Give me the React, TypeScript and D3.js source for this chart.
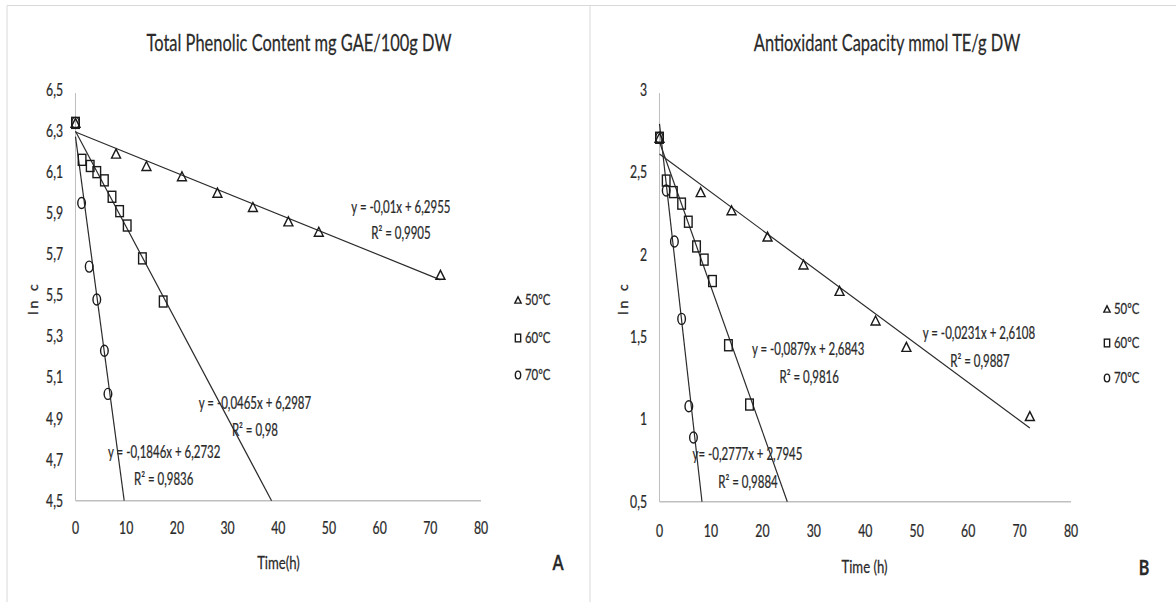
import React from 'react';
import * as d3 from 'd3';

const W = 1176;
const H = 602;

const TEMPS = ['50ºC', '60ºC', '70ºC'];
const X_TICKS = [0, 10, 20, 30, 40, 50, 60, 70, 80];

// Panel A: total phenolic content (ln c)
const A_TIME_50 = [0, 8, 14, 21, 28, 35, 42, 48, 72];
const A_LNC_50 = [6.34, 6.19, 6.13, 6.08, 6.0, 5.93, 5.86, 5.81, 5.6];
const A_TIME_60 = [0, 1.3, 2.9, 4.2, 5.7, 7.2, 8.7, 10.2, 13.2, 17.3];
const A_LNC_60 = [6.34, 6.16, 6.13, 6.1, 6.06, 5.98, 5.91, 5.84, 5.68, 5.47];
const A_TIME_70 = [0, 1.2, 2.7, 4.2, 5.7, 6.4];
const A_LNC_70 = [6.34, 5.95, 5.64, 5.48, 5.23, 5.02];
const A_SLOPE = [-0.01, -0.0465, -0.1846];
const A_INTERCEPT = [6.2955, 6.2987, 6.2732];
const A_EQ = ['y = -0,01x + 6,2955', 'y = -0,0465x + 6,2987', 'y = -0,1846x + 6,2732'];
const A_R2 = ['R² = 0,9905', 'R² = 0,98', 'R² = 0,9836'];
const A_Y_TICKS = [4.5, 4.7, 4.9, 5.1, 5.3, 5.5, 5.7, 5.9, 6.1, 6.3, 6.5];

// Panel B: antioxidant capacity (ln c)
const B_TIME_50 = [0, 8, 14, 21, 28, 35, 42, 48, 72];
const B_LNC_50 = [2.71, 2.38, 2.27, 2.11, 1.94, 1.78, 1.6, 1.44, 1.02];
const B_TIME_60 = [0, 1.3, 2.7, 4.3, 5.6, 7.2, 8.7, 10.3, 13.4, 17.5];
const B_LNC_60 = [2.71, 2.45, 2.38, 2.31, 2.2, 2.05, 1.97, 1.84, 1.45, 1.09];
const B_TIME_70 = [0, 1.3, 2.9, 4.3, 5.7, 6.6];
const B_LNC_70 = [2.71, 2.39, 2.08, 1.61, 1.08, 0.89];
const B_SLOPE = [-0.0231, -0.0879, -0.2777];
const B_INTERCEPT = [2.6108, 2.6843, 2.7945];
const B_EQ = ['y = -0,0231x + 2,6108', 'y = -0,0879x + 2,6843', 'y= -0,2777x + 2,7945'];
const B_R2 = ['R² = 0,9887', 'R² = 0,9816', 'R² = 0,9884'];
const B_Y_TICKS = [0.5, 1, 1.5, 2, 2.5, 3];

const INK = '#2a2a2a';
const AXIS = '#bfbfbf';
const FONT = 'Lato, "Open Sans", sans-serif';

const fmt = (v: number) => String(+v.toFixed(2)).replace('.', ',');

// the source image is squeezed sideways, so text is drawn tall and narrow
function T({ x, y, size, children, anchor = 'middle', weight = 400, sx = 0.7 }: any) {
  return (
    <text transform={`translate(${x},${y}) scale(${sx},1)`} fontSize={size} fontFamily={FONT}
      fill={INK} stroke={INK} strokeWidth={0.25} textAnchor={anchor} dy="0.35em" fontWeight={weight}>{children}</text>
  );
}

function Marker({ kind, x, y, s = 1 }: { kind: number; x: number; y: number; s?: number }) {
  const common = { fill: 'none', stroke: '#1a1a1a', strokeWidth: 1.4 };
  if (kind === 0) {
    const w = 4.5 * s, h = 9 * s;
    return <path d={`M${x},${y - h / 2}L${x + w},${y + h / 2}L${x - w},${y + h / 2}Z`} {...common} />;
  }
  if (kind === 1) return <rect x={x - 3.8 * s} y={y - 5.5 * s} width={7.6 * s} height={11 * s} {...common} />;
  return <ellipse cx={x} cy={y} rx={3.8 * s} ry={5.5 * s} {...common} />;
}

function Panel({ cfg }: any) {
  const x = d3.scaleLinear().domain([0, 80]).range(cfg.xRange);
  const y = d3.scaleLinear().domain(cfg.yDomain).range(cfg.yRange);
  const y0 = cfg.yDomain[0];
  const series = cfg.series as { t: number[]; v: number[] }[];
  const line = d3.line<[number, number]>().x(d => x(d[0])).y(d => y(d[1]));

  return (
    <g>
      <T x={cfg.title[0]} y={cfg.title[1]} size={24} sx={0.685}>{cfg.titleText}</T>

      <line x1={x(0)} x2={x(0)} y1={y(cfg.yDomain[1]) + 3} y2={y(y0)} stroke={AXIS} strokeWidth={1} />
      <line x1={x(0)} x2={x(80)} y1={y(y0)} y2={y(y0)} stroke={AXIS} strokeWidth={1.6} />

      {cfg.yTicks.map((v: number) => (
        <T key={v} x={x(0) - 12.5} y={y(v)} size={17} sx={0.72} anchor="end">{fmt(v)}</T>
      ))}
      {X_TICKS.map(v => (
        <T key={v} x={x(v)} y={cfg.xTickY} size={17} sx={0.72}>{v}</T>
      ))}

      {cfg.slope.map((m: number, i: number) => {
        const b = cfg.intercept[i];
        const tEnd = Math.min(72, (y0 - b) / m);
        return <path key={i} d={line([[0, b], [tEnd, b + m * tEnd]]) || ''} stroke="#2b2b2b" strokeWidth={1.2} fill="none" />;
      })}

      {series.map((s, k) => s.t.map((t, j) => (
        <Marker key={`${k}-${j}`} kind={k} x={x(t)} y={y(s.v[j])} />
      )))}

      {cfg.eqPos.map((p: number[], i: number) => (
        <g key={i}>
          <T x={x(p[0])} y={y(p[1])} size={17} sx={0.675}>{cfg.eq[i]}</T>
          <T x={x(p[2])} y={y(p[3])} size={17} sx={0.675}>{cfg.r2[i]}</T>
        </g>
      ))}

      {TEMPS.map((name, i) => (
        <g key={name}>
          <Marker kind={i} x={cfg.legend[0]} y={cfg.legend[1][i]} s={0.7} />
          <T x={cfg.legend[0] + 7} y={cfg.legend[1][i]} size={15} sx={0.76} anchor="start">{name}</T>
        </g>
      ))}

      <T x={cfg.xLabel[0]} y={cfg.xLabel[1]} size={18} sx={0.73}>{cfg.xLabelText}</T>
      <text transform={`translate(${cfg.yLabel[0]},${cfg.yLabel[1]}) rotate(-90)`} fontSize={14}
        fontFamily={FONT} fill={INK} stroke={INK} strokeWidth={0.3} textAnchor="middle" dy="0.35em"
        letterSpacing={3}>ln c</text>
      <T x={cfg.tag[0]} y={cfg.tag[1]} size={20} sx={0.8} weight={700}>{cfg.tagText}</T>
    </g>
  );
}

const PANEL_A = {
  titleText: 'Total Phenolic Content mg GAE/100g DW', title: [299, 43],
  xRange: [75.5, 481], yDomain: [4.5, 6.5], yRange: [500.7, 90], yTicks: A_Y_TICKS, xTickY: 528,
  series: [{ t: A_TIME_50, v: A_LNC_50 }, { t: A_TIME_60, v: A_LNC_60 }, { t: A_TIME_70, v: A_LNC_70 }],
  slope: A_SLOPE, intercept: A_INTERCEPT, eq: A_EQ, r2: A_R2,
  eqPos: [[64.2, 5.93, 64.2, 5.804], [35.4, 4.976, 35.4, 4.844], [17.5, 4.737, 17.4, 4.606]],
  legend: [518, [300, 338, 375]],
  xLabelText: 'Time(h)', xLabel: [278.5, 563], yLabel: [33, 298], tagText: 'A', tag: [558, 563],
};

const PANEL_B = {
  titleText: 'Antioxidant Capacity mmol TE/g DW', title: [887, 43],
  xRange: [659.5, 1071], yDomain: [0.5, 3], yRange: [501.7, 90], yTicks: B_Y_TICKS, xTickY: 531.5,
  series: [{ t: B_TIME_50, v: B_LNC_50 }, { t: B_TIME_60, v: B_LNC_60 }, { t: B_TIME_70, v: B_LNC_70 }],
  slope: B_SLOPE, intercept: B_INTERCEPT, eq: B_EQ, r2: B_R2,
  eqPos: [[62.1, 1.524, 62.3, 1.354], [28.9, 1.427, 29.1, 1.257], [17.1, 0.79, 17.2, 0.62]],
  legend: [1107, [309, 343, 378]],
  xLabelText: 'Time (h)', xLabel: [864.5, 567], yLabel: [623, 298], tagText: 'B', tag: [1144, 568],
};

export default function App() {
  return (
    <svg width={W} height={H} style={{ position: 'absolute', left: 0, top: 0, background: '#fff' }}>
      <rect width={W} height={H} fill="#fff" />
      <line x1={7} x2={W} y1={5.5} y2={5.5} stroke="#d9d9d9" />
      <line x1={7} x2={7} y1={5.5} y2={H} stroke="#d9d9d9" />
      <line x1={590} x2={590} y1={5.5} y2={H} stroke="#d9d9d9" />
      <Panel cfg={PANEL_A} />
      <Panel cfg={PANEL_B} />
    </svg>
  );
}
